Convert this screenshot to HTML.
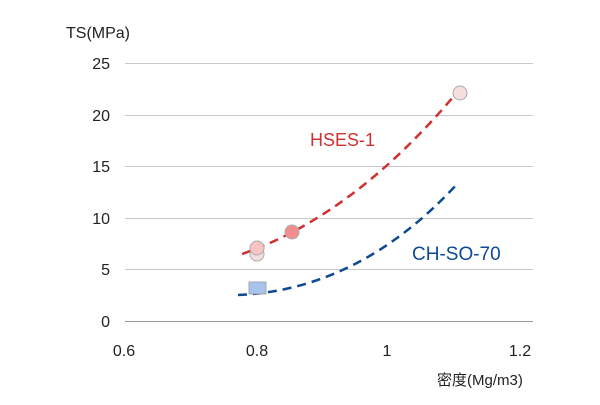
<!DOCTYPE html>
<html><head><style>
body{margin:0;background:#fff}
svg text{font-family:"Liberation Sans","Noto Sans CJK JP",sans-serif}
</style></head><body>
<svg width="600" height="400" xmlns="http://www.w3.org/2000/svg">
<g stroke="#c8c8c8" stroke-width="1">
<line x1="125" y1="63.5" x2="533" y2="63.5"/>
<line x1="125" y1="115.5" x2="533" y2="115.5"/>
<line x1="125" y1="166.5" x2="533" y2="166.5"/>
<line x1="125" y1="218.5" x2="533" y2="218.5"/>
<line x1="125" y1="269.5" x2="533" y2="269.5"/>
</g>
<line x1="125" y1="321.5" x2="533" y2="321.5" stroke="#999" stroke-width="1"/>
<g font-size="16" fill="#222" text-anchor="end">
<text x="110" y="69">25</text>
<text x="110" y="121">20</text>
<text x="110" y="172">15</text>
<text x="110" y="224">10</text>
<text x="110" y="275">5</text>
<text x="110" y="327">0</text>
</g>
<g font-size="16" fill="#222" text-anchor="middle">
<text x="124" y="356">0.6</text>
<text x="257" y="356">0.8</text>
<text x="387" y="356">1</text>
<text x="520" y="356">1.2</text>
</g>
<text x="66" y="38" font-size="16" fill="#222">TS(MPa)</text>
<text x="437" y="385" font-size="15" fill="#222">密度(Mg/m3)</text>
<path d="M242,254 Q355,215 459,90" fill="none" stroke="#d03030" stroke-width="2.5" stroke-dasharray="9,6"/>
<path d="M238,295 Q360,290 458,183" fill="none" stroke="#0c4a94" stroke-width="2.5" stroke-dasharray="9,6"/>
<rect x="249" y="282" width="17" height="12" fill="#a8c4ee" stroke="#999" stroke-width="0.8"/>
<circle cx="257" cy="254" r="7" fill="#f4dede" stroke="#aaa" stroke-width="1"/>
<circle cx="257" cy="248" r="7" fill="#f7c4c4" stroke="#aaa" stroke-width="1"/>
<circle cx="292" cy="232" r="7" fill="#f28e8e" stroke="#aaa" stroke-width="1"/>
<circle cx="460" cy="93" r="7" fill="#f4dede" stroke="#aaa" stroke-width="1"/>
<text x="310" y="146" font-size="18" fill="#d03030">HSES-1</text>
<text x="412" y="260" font-size="19" fill="#0c4a94">CH-SO-70</text>
</svg>
</body></html>
